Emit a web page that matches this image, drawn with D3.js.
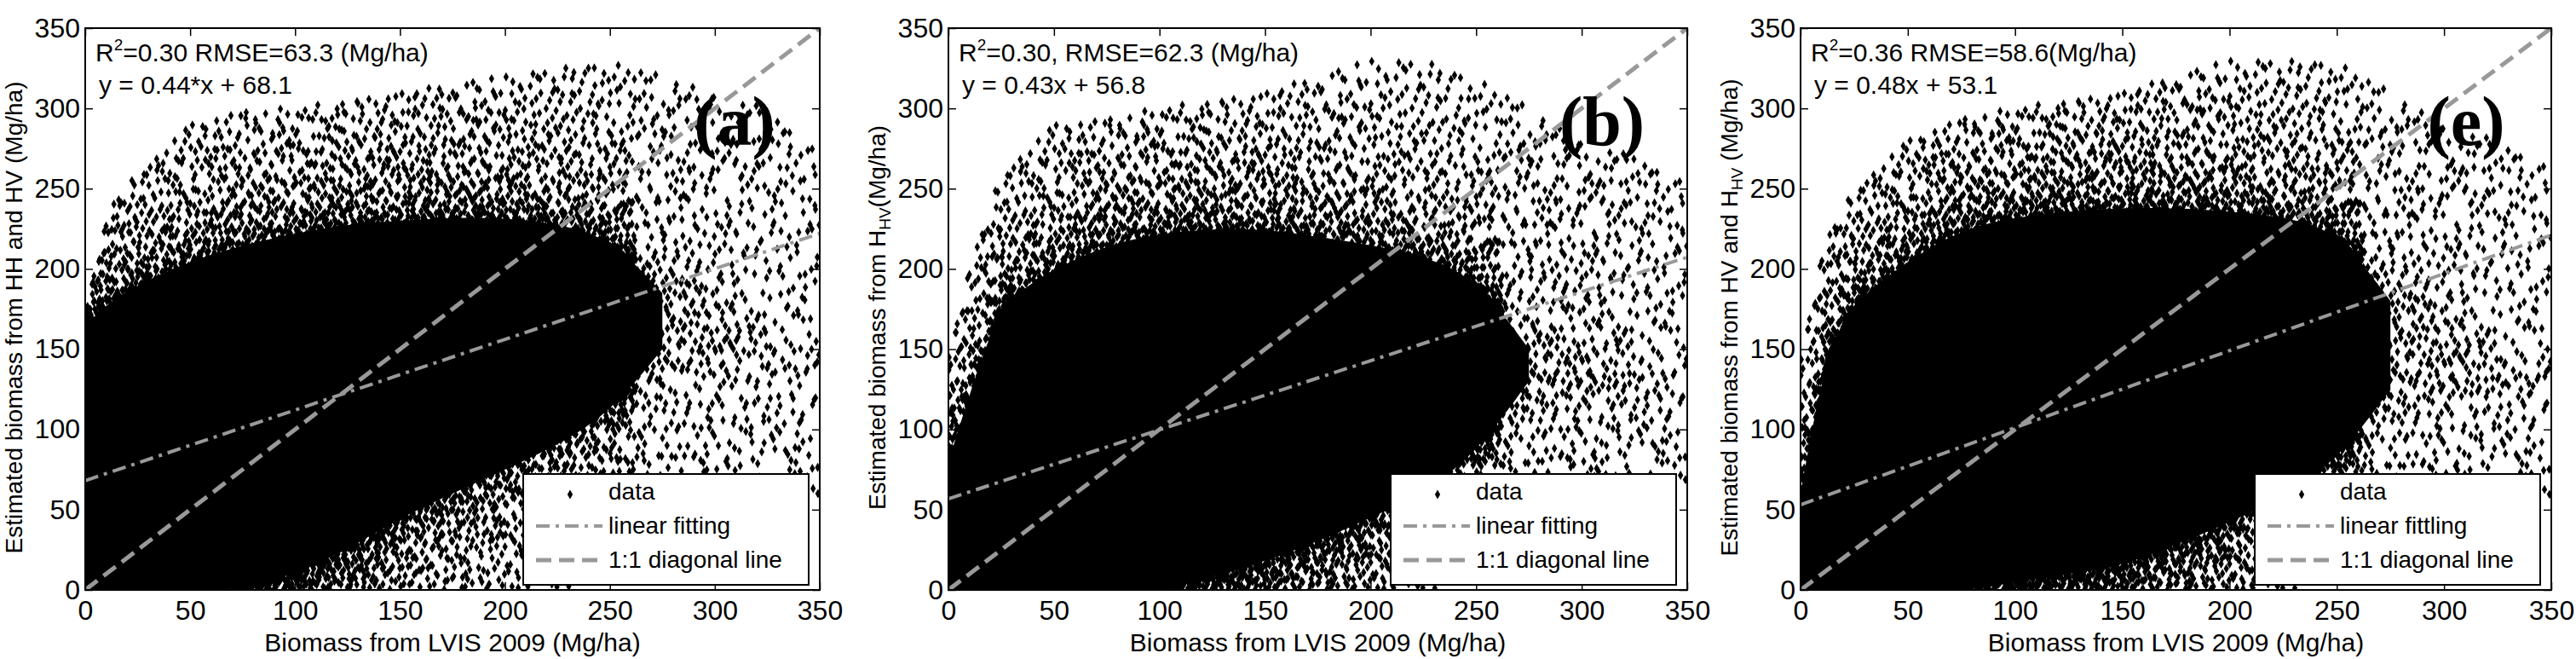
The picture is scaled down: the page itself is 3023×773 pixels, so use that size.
<!DOCTYPE html>
<html><head><meta charset="utf-8">
<script src="https://cdn.jsdelivr.net/npm/d3@7/dist/d3.min.js"></script>
<style>body{margin:0;background:#fff}text{font-family:"Liberation Sans",Arial,sans-serif}</style>
</head><body><svg id="c" width="3023" height="773"></svg>
<script>
// ---- data ----
const ticks = [0,50,100,150,200,250,300,350];
const binX = [0,12,25,50,75,100,125,150,175,200,225,250,275,300,325,350];
// panel (a)
const aCoreTop = [165,180,190,205,215,222,228,230,232,232,228,220,205,180,160,150];
const aCoreBot = [0,0,0,0,0,10,25,45,60,75,90,110,130,140,140,140];
const aEnvTop  = [175,240,260,290,300,300,305,310,315,320,325,330,320,310,300,280];
const aEnvBot  = [0,0,0,0,0,0,0,0,0,0,0,10,20,40,50,50];
// panel (b)
const bCoreTop = [80,130,180,200,215,222,225,225,220,215,208,195,170,150,130,120];
const bCoreBot = [0,0,0,0,0,0,8,18,30,45,60,85,110,120,120,120];
const bEnvTop  = [150,210,260,290,295,300,305,310,320,330,330,320,300,280,270,260];
const bEnvBot  = [0,0,0,0,0,0,0,0,0,0,0,5,20,50,60,60];
// panel (c)
const cCoreTop = [60,150,180,205,225,232,236,238,238,236,232,225,200,170,150,140];
const cCoreBot = [0,0,0,0,0,5,10,15,28,42,58,80,105,120,120,120];
const cEnvTop  = [150,220,250,280,295,300,305,310,320,330,330,330,310,290,280,270];
const cEnvBot  = [0,0,0,0,0,0,0,0,0,0,0,5,15,40,50,50];
const fits = [[0.44,68.1],[0.43,56.8],[0.48,53.1]];
const stats = ["=0.30 RMSE=63.3 (Mg/ha)","=0.30, RMSE=62.3 (Mg/ha)","=0.36 RMSE=58.6(Mg/ha)"];
const eqs = ["y = 0.44*x + 68.1","y = 0.43x + 56.8","y = 0.48x + 53.1"];
const tags = ["(a)","(b)","(e)"];
const legendNames = [["data","linear fitting","1:1 diagonal line"],["data","linear fitting","1:1 diagonal line"],["data","linear fittling","1:1 diagonal line"]];
const panels = [
 {core:[aCoreTop,aCoreBot],env:[aEnvTop,aEnvBot],x0:100,x1:962,ylab:[["Estimated biomass from HH and HV (Mg/ha)",""]]},
 {core:[bCoreTop,bCoreBot],env:[bEnvTop,bEnvBot],x0:1113,x1:1980,ylab:[["Estimated biomass from H",""],["HV","sub"],["(Mg/ha)",""]]},
 {core:[cCoreTop,cCoreBot],env:[cEnvTop,cEnvBot],x0:2113,x1:2994,ylab:[["Estimated biomass from HV and H",""],["HV","sub"],[" (Mg/ha)",""]]}
];
// ---- drawing ----
const svg = d3.select("#c");
const pTop=33, pBot=692;
function halton(i,b){let f=1,r=0;while(i>0){f/=b;r+=f*(i%b);i=Math.floor(i/b);}return r;}
const diamond = d3.symbol().type(d3.symbolDiamond).size(34);
panels.forEach((p,k)=>{
  const x=d3.scaleLinear().domain([0,350]).range([p.x0,p.x1]);
  const y=d3.scaleLinear().domain([0,350]).range([pBot,pTop]);
  const g=svg.append("g");
  const clip="clip"+k;
  svg.append("clipPath").attr("id",clip).append("rect").attr("x",p.x0).attr("y",pTop).attr("width",p.x1-p.x0).attr("height",pBot-pTop);
  const pg=g.append("g").attr("clip-path",`url(#${clip})`);
  const lerp=(arr,v)=>{for(let i=0;i<binX.length-1;i++){if(v<=binX[i+1]){const t=(v-binX[i])/(binX[i+1]-binX[i]);return arr[i]+(arr[i+1]-arr[i])*t;}}return arr[arr.length-1];};
  const idx=d3.range(binX.length).filter(i=>binX[i]<=275);
  const corePath=d3.area().curve(d3.curveBasis).x(i=>x(binX[i])).y0(i=>y(p.core[1][i]+(binX[i]>=275?20:0))).y1(i=>y(p.core[0][i]-(binX[i]>=275?20:0)));
  pg.append("path").attr("fill","#000").attr("d",corePath(idx));
  const pts=[];
  for(let i=1;i<6000;i++){
    const vx=halton(i,2)*350, u=halton(i,3), s=halton(i,5);
    const ct=lerp(p.core[0],vx), cb=lerp(p.core[1],vx), et=lerp(p.env[0],vx), eb=lerp(p.env[1],vx);
    let vy;
    if(vx>262){
      const w=(vx-262)/88;
      vy = eb+(et-eb)*u;
      const inCore = vy<ct && vy>cb;
      if(!inCore && halton(i,7)<0.4+0.3*w) continue;
      if(inCore && halton(i,7)<0.5*w) continue;
    }
    else if(s<0.55) vy = ct-8+(et-ct+8)*Math.pow(u,2.6);
    else vy = cb+8-(cb+8-eb)*Math.pow(u,2.2);
    pts.push([vx,vy]);
  }
  pg.selectAll("path.pt").data(pts).join("path").attr("class","pt").attr("fill","#000")
    .attr("transform",d=>`translate(${x(d[0])},${y(d[1])})`).attr("d",diamond);
  const [m,c]=fits[k];
  pg.append("line").attr("x1",x(0)).attr("y1",y(c)).attr("x2",x(350)).attr("y2",y(m*350+c))
    .attr("stroke","#999").attr("stroke-width",4).attr("stroke-dasharray","16,7,4,7");
  pg.append("line").attr("x1",x(0)).attr("y1",y(0)).attr("x2",x(350)).attr("y2",y(350))
    .attr("stroke","#999").attr("stroke-width",5).attr("stroke-dasharray","18,9");
  g.append("rect").attr("x",p.x0).attr("y",pTop).attr("width",p.x1-p.x0).attr("height",pBot-pTop).attr("fill","none").attr("stroke","#000").attr("stroke-width",2);
  const st=a=>a.call(s=>{s.select(".domain").remove();s.selectAll("text").attr("font-size",32).attr("fill","#000").style("font-family","Liberation Sans, Arial");s.selectAll("line").attr("stroke","#000").attr("stroke-width",1.5);});
  g.append("g").attr("transform",`translate(0,${pBot})`).call(d3.axisBottom(x).tickValues(ticks).tickSize(-9).tickPadding(12)).call(st);
  g.append("g").attr("transform",`translate(0,${pTop})`).call(d3.axisTop(x).tickValues(ticks).tickSize(-9).tickFormat("")).call(st);
  g.append("g").attr("transform",`translate(${p.x0},0)`).call(d3.axisLeft(y).tickValues(ticks).tickSize(-9).tickPadding(6)).call(st);
  g.append("g").attr("transform",`translate(${p.x1},0)`).call(d3.axisRight(y).tickValues(ticks).tickSize(-9).tickFormat("")).call(st);
  g.append("text").attr("x",(p.x0+p.x1)/2).attr("y",764).attr("text-anchor","middle").attr("font-size",30).text("Biomass from LVIS 2009 (Mg/ha)");
  const yl=g.append("text").attr("transform",`translate(${p.x0-74},${(pTop+pBot)/2+10}) rotate(-90)`).attr("text-anchor","middle").attr("font-size",28);
  p.ylab.forEach(([t,s],j)=>{const ts=yl.append("tspan").text(t);if(s){ts.attr("font-size",19).attr("dy",6);}else if(j>0){ts.attr("dy",-6);}});
  const t1=g.append("text").attr("x",p.x0+12).attr("y",72).attr("font-size",30);
  t1.append("tspan").text("R");t1.append("tspan").text("2").attr("font-size",19).attr("dy",-13);t1.append("tspan").text(stats[k]).attr("dy",13);
  g.append("text").attr("x",p.x0+16).attr("y",110).attr("font-size",30).text(eqs[k]);
  g.append("text").attr("x",p.x1-100).attr("y",170).attr("text-anchor","middle").attr("font-size",82).attr("font-weight","bold").style("font-family","Liberation Serif, Times New Roman, serif").text(tags[k]);
  const lw=335, lh=130, lx=p.x1-13-lw, ly=pBot-6-lh;
  const lg=g.append("g");
  lg.append("rect").attr("x",lx).attr("y",ly).attr("width",lw).attr("height",lh).attr("fill","#fff").attr("stroke","#000").attr("stroke-width",2);
  const rows=[ly+30,ly+70,ly+110];
  lg.append("path").attr("d",diamond).attr("transform",`translate(${lx+55},${rows[0]-6})`);
  lg.append("line").attr("x1",lx+15).attr("x2",lx+93).attr("y1",rows[1]-9).attr("y2",rows[1]-9).attr("stroke","#999").attr("stroke-width",4).attr("stroke-dasharray","16,7,4,7");
  lg.append("line").attr("x1",lx+15).attr("x2",lx+93).attr("y1",rows[2]-9).attr("y2",rows[2]-9).attr("stroke","#999").attr("stroke-width",5).attr("stroke-dasharray","18,9");
  legendNames[k].forEach((n,i)=>lg.append("text").attr("x",lx+100).attr("y",rows[i]).attr("font-size",28).text(n));
});
</script></body></html>
